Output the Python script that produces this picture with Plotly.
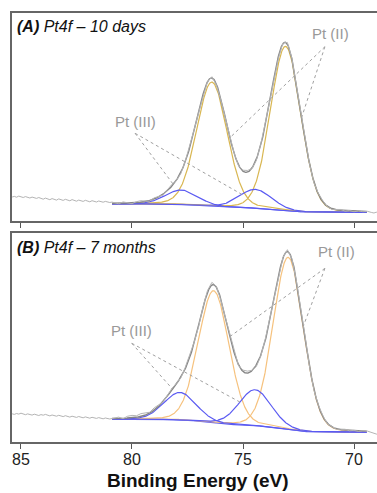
import numpy as np
import plotly.graph_objects as go

FONT = "Liberation Sans, Arial, Helvetica, sans-serif"

# ---------------- data ----------------
tick_values = [85, 80, 75, 70]
tick_labels = ["85", "80", "75", "70"]
x_title = "<b>Binding Energy (eV)</b>"
panel_titles = ["<b><i>(A)</i></b><i> Pt4f – 10 days</i>",
                "<b><i>(B)</i></b><i> Pt4f – 7 months</i>"]

component_names = ["Pt(II) 4f7/2", "Pt(II) 4f5/2", "Pt(III) 4f7/2", "Pt(III) 4f5/2"]
component_kind = ["II", "II", "III", "III"]

# fit window (eV)
fit_low, fit_high = 69.43, 80.9

# Panel A (10 days) fit parameters: centre (eV), height, FWHM (eV)
a_centers = [73.08, 76.40, 74.46, 77.78]
a_heights = [164.0, 124.0, 18.7, 14.3]
a_fwhm = [1.60, 1.62, 1.70, 1.70]
a_bg_low, a_bg_high = 8.5, 17.0

# Panel B (7 months) fit parameters
b_centers = [72.96, 76.32, 74.46, 77.84]
b_heights = [172.0, 132.0, 36.0, 27.5]
b_fwhm = [1.60, 1.62, 1.70, 1.70]
b_bg_low, b_bg_high = 9.7, 22.7

gl_mix = 0.1  # Lorentzian fraction of the GL line shape

# measured spectrum outside the fit window (85.4 -> 80.9 eV, 0.1 eV step)
a_raw_left = [24.0, 24.6, 23.8, 24.9, 24.2, 23.5, 24.4, 23.6, 23.0, 23.9, 23.2, 22.6,
              23.5, 22.4, 21.8, 22.9, 22.0, 21.3, 22.4, 21.6, 20.9, 22.1, 21.2, 20.6,
              21.7, 20.8, 20.2, 21.4, 20.5, 19.8, 20.9, 20.1, 19.6, 20.7, 19.8, 19.2,
              20.3, 19.6, 19.0, 20.0, 19.3, 18.8, 19.6, 19.0, 18.5, 18.9]
b_raw_left = [28.2, 27.6, 28.5, 27.9, 28.8, 28.0, 27.3, 28.1, 27.5, 26.9, 27.8, 27.0,
              26.5, 27.4, 26.8, 27.6, 26.7, 26.1, 27.0, 26.3, 25.8, 26.7, 25.9, 25.4,
              26.3, 25.6, 24.9, 25.8, 25.1, 24.6, 25.5, 24.8, 24.2, 25.1, 24.5, 23.8,
              24.7, 24.0, 23.6, 24.4, 23.7, 23.2, 24.0, 23.4, 23.0, 23.5]
# measured spectrum beyond the low-BE end of the fit (69.2 -> 68.8 eV)
a_raw_right = [8.5, 8.0, 8.8, 8.2, 7.9]
b_raw_right = [9.8, 9.2, 8.0, 7.2, 7.8]
# measured minus fit envelope inside the fit window (80.8 -> 69.4 eV, 0.2 eV step)
a_residual = [0.8, -0.5, 1.2, 0.3, -0.8, 0.9, 1.5, 0.4, -0.6, 1.1, 0.2, -1.0, 0.8, 1.6,
              -0.4, -1.3, 0.6, 1.8, 0.9, -0.7, -1.5, 0.4, 1.2, -0.9, -1.6, 0.3, 1.4, 0.5,
              -0.8, 1.0, 1.7, -0.6, -1.2, 0.9, 2.2, 1.5, -0.9, -1.8, 0.6, 1.9, 0.4, -1.1,
              0.8, 1.3, -0.5, -1.0, 0.7, 1.2, -0.3, -0.8, 0.6, 0.9, -0.4, 0.5, -0.6, 0.4,
              -0.3, 0.2]
b_residual = [0.6, 1.2, -0.4, 1.8, 2.4, 1.5, 2.8, 1.9, 0.8, 2.2, 1.4, -0.6, 0.9, 1.7,
              0.5, -0.8, 1.3, 2.1, 0.7, -1.2, 0.5, 1.9, 2.6, 0.8, -1.4, -0.6, 1.5, 0.9,
              -1.1, 1.3, 2.0, 0.4, -1.6, -0.9, 1.4, 2.3, 0.8, -1.2, 0.6, 1.8, 0.3, -0.9,
              1.0, 1.6, -0.5, -1.1, 0.8, 1.1, -0.4, 0.7, -0.6, 0.5, 0.9, -0.3, 0.4, -0.5,
              0.3, 0.1]

# label annotations: text, text position, leader start, leader targets (x eV, curve)
a_labels = [("Pt (II)", (71.08, 188), (71.31, 174.3), [(75.59, "env"), (72.36, "env")]),
            ("Pt (III)", (79.86, 99.3), (79.86, 87.7), [(78.14, "env"), (75.05, 2)])]
b_labels = [("Pt (II)", (70.78, 190.3), (71.31, 173.7), [(75.59, "env"), (72.28, "env")]),
            ("Pt (III)", (80.01, 112), (80.01, 98.7), [(78.17, "env"), (75.14, 2)])]

# ---------------- styling ----------------
COL_RAW = "#b4b4b4"
COL_ENV = "#858585"
COL_BLUE = "#5a5af2"
COL_ORANGE = {"A": "#d9b752", "B": "#f6c27e"}
AX_COL = "#666666"

W, H = 377, 493
M_L, M_R, M_T, M_B = 12, 0, 13, 51
plot_h = H - M_T - M_B
x_range = [85.405, 68.964]


def gl(x, c, h, w):
    d2 = (x - c) ** 2 / w ** 2
    g = np.exp(-4 * np.log(2) * d2)
    lor = 1.0 / (1.0 + 4 * d2)
    return h * ((1 - gl_mix) * g + gl_mix * lor)


def build(centers, heights, fwhm, bg_low, bg_high, raw_left, raw_right, residual):
    xs = np.linspace(fit_low, fit_high, 700)
    comps = [gl(xs, c, h, w) for c, h, w in zip(centers, heights, fwhm)]
    tot = np.sum(comps, axis=0)
    cum = np.concatenate([[0.0], np.cumsum((tot[1:] + tot[:-1]) / 2 * np.diff(xs))])
    bg = bg_low + (bg_high - bg_low) * cum / cum[-1]
    env = bg + tot

    def env_at(x):
        return float(np.interp(x, xs, env))

    def comp_at(i, x):
        return float(np.interp(x, xs, bg) + gl(x, centers[i], heights[i], fwhm[i]))

    x_left = np.linspace(85.4, 80.9, len(raw_left))
    x_fit = np.linspace(80.8, 69.4, len(residual))
    x_right = np.linspace(69.2, 68.8, len(raw_right))
    raw_fit = np.interp(x_fit, xs, env) + np.array(residual)
    raw_x = np.concatenate([x_left, x_fit, x_right])
    raw_y = np.concatenate([raw_left, raw_fit, raw_right])
    return dict(xs=xs, comps=[bg + c for c in comps], bg=bg, env=env,
                raw_x=raw_x, raw_y=raw_y, env_at=env_at, comp_at=comp_at)


panels = [
    ("A", "x2", "y2", build(a_centers, a_heights, a_fwhm, a_bg_low, a_bg_high,
                            a_raw_left, a_raw_right, a_residual), a_labels, 208),
    ("B", "x", "y", build(b_centers, b_heights, b_fwhm, b_bg_low, b_bg_high,
                          b_raw_left, b_raw_right, b_residual), b_labels, 209),
]

fig = go.Figure()
shapes = []
annotations = []

for idx, (key, xa, ya, d, labels, ymax) in enumerate(panels):
    fig.add_trace(go.Scatter(x=d["xs"], y=d["bg"], xaxis=xa, yaxis=ya, mode="lines",
                             line=dict(color=COL_BLUE, width=1.2), hoverinfo="skip",
                             showlegend=False, name="background"))
    for i, comp in enumerate(d["comps"]):
        col = COL_ORANGE[key] if component_kind[i] == "II" else COL_BLUE
        fig.add_trace(go.Scatter(x=d["xs"], y=comp, xaxis=xa, yaxis=ya, mode="lines",
                                 line=dict(color=col, width=1.2), showlegend=False,
                                 name=component_names[i]))
    fig.add_trace(go.Scatter(x=d["xs"], y=d["env"], xaxis=xa, yaxis=ya, mode="lines",
                             line=dict(color=COL_ENV, width=1.4), showlegend=False,
                             name="envelope"))
    fig.add_trace(go.Scatter(x=d["raw_x"], y=d["raw_y"], xaxis=xa, yaxis=ya, mode="lines",
                             line=dict(color=COL_RAW, width=1), showlegend=False,
                             name="measured"))

    for text, tpos, start, targets in labels:
        annotations.append(dict(x=tpos[0], y=tpos[1], xref=xa, yref=ya, text=text,
                                showarrow=False, xanchor="center", yanchor="middle",
                                font=dict(family=FONT, size=15, color="#999999")))
        for tx, curve in targets:
            ty = d["env_at"](tx) if curve == "env" else d["comp_at"](curve, tx)
            shapes.append(dict(type="line", xref=xa, yref=ya, x0=start[0], y0=start[1],
                               x1=tx, y1=ty,
                               line=dict(color="#a0a0a0", width=1, dash="dot")))

    annotations.append(dict(x=(15 - M_L) / (W - M_L - M_R), xref="paper",
                            y=0.933, yref=f"{ya} domain", text=panel_titles[idx],
                            showarrow=False, xanchor="left", yanchor="middle",
                            font=dict(family=FONT, size=16, color="#111111")))

annotations.append(dict(x=(198.5 - M_L) / (W - M_L - M_R), xref="paper",
                        y=(H - M_B - 481) / plot_h, yref="paper", text=x_title,
                        showarrow=False, xanchor="center", yanchor="middle",
                        font=dict(family=FONT, size=19, color="#111111")))

xcommon = dict(range=x_range, tickvals=tick_values, ticktext=tick_labels,
               ticks="outside", ticklen=5, tickwidth=1, tickcolor="#555555",
               showline=True, linecolor=AX_COL, linewidth=1.5, mirror=True,
               showgrid=False, zeroline=False,
               tickfont=dict(family=FONT, size=16, color="#222222"))
ycommon = dict(showline=True, linecolor=AX_COL, linewidth=1.5, mirror=False,
               showticklabels=False, ticks="", showgrid=False, zeroline=False)

b_top = (442 - 233) / plot_h
a_bot = (442 - 221) / plot_h

fig.update_layout(
    width=W, height=H,
    margin=dict(l=M_L, r=M_R, t=M_T, b=M_B, pad=0),
    paper_bgcolor="white", plot_bgcolor="white",
    font=dict(family=FONT),
    xaxis=dict(domain=[0, 1], anchor="y", ticklabelstandoff=-3, **xcommon),
    yaxis=dict(domain=[0, b_top], anchor="x", range=[0, 209], **ycommon),
    xaxis2=dict(domain=[0, 1], anchor="y2", showticklabels=False, **xcommon),
    yaxis2=dict(domain=[a_bot, 1], anchor="x2", range=[0, 208], **ycommon),
    shapes=shapes,
    annotations=annotations,
    showlegend=False,
)

fig.write_html("out.html", config={"displayModeBar": False})
